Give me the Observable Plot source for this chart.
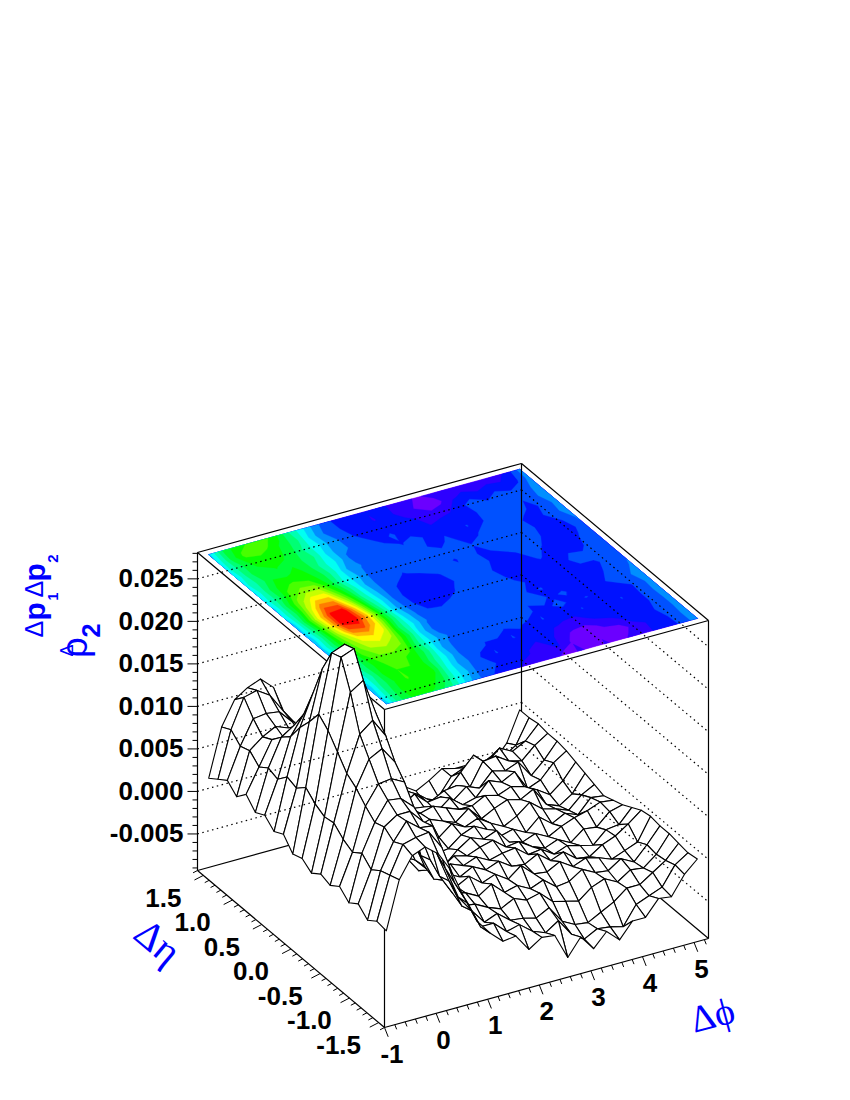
<!DOCTYPE html>
<html><head><meta charset="utf-8">
<script src="https://cdn.jsdelivr.net/npm/d3@7"></script>
<script src="https://cdn.jsdelivr.net/npm/@observablehq/plot@0.6"></script>
<style>html,body{margin:0;padding:0;background:#fff}</style>
</head><body><div id="chart"></div>
<script>
// Δφ bin centres run along columns, Δη along rows (values in units of 0.001)
const phiBins = 25, etaBins = 20;
const phiTicks = [-1,0,1,2,3,4,5];
const etaTicks = [1.5,1.0,0.5,0.0,-0.5,-1.0,-1.5];
const zTicks = [0.025,0.020,0.015,0.010,0.005,0.000,-0.005];
const row00=[1.8,7.4,10.2,11.2,11.8,10.4,6.4,3.4,0.2,-2.2,-3.4,-3.0,-4.2,-3.6,-4.8,-5.4,-6.4,-5.6,-4.6,-5.0,-5.0,-5.4,-5.4,-3.7,-0.2];
const row01=[2.6,8.0,11.4,11.8,10.8,8.6,6.6,2.4,-0.8,-2.0,-3.6,-2.8,-4.6,-3.2,-5.4,-6.0,-7.0,-6.6,-4.6,-4.0,-4.4,-3.6,-4.0,-3.0,-0.2];
const row02=[3.4,7.0,9.8,10.0,9.8,8.2,5.2,2.8,-0.4,-1.4,-3.2,-4.0,-3.4,-3.6,-3.8,-5.0,-5.6,-4.8,-3.2,-1.6,-3.0,-1.6,-2.4,-1.6,0.0];
const row03=[2.4,7.4,8.6,9.4,8.8,7.6,5.8,1.8,-0.6,-1.2,-1.8,-3.4,-2.4,-3.8,-3.2,-4.4,-3.6,-3.4,-4.0,-1.4,-1.2,-2.2,-2.6,-1.2,-0.2];
const row04=[3.6,6.4,9.2,8.8,10.0,7.8,4.6,2.2,-1.2,-1.4,-1.2,-2.0,-2.8,-1.8,-3.2,-3.0,-3.8,-2.6,-3.2,-1.6,-2.0,-1.4,-3.4,-2.0,-0.2];
const row05=[2.4,7.2,10.4,11.4,10.6,8.6,5.0,0.8,-0.8,-1.8,-2.0,-1.2,-2.2,-2.4,-3.4,-2.2,-3.4,-3.0,-1.4,-2.0,-1.2,-3.6,-3.0,-1.4,-0.4];
const row06=[3.0,6.8,11.4,13.6,13.6,9.0,4.2,1.4,-1.4,-1.2,-2.0,-1.6,-1.8,-1.4,-2.0,-2.6,-2.6,-1.8,-2.2,-1.6,-2.0,-2.8,-3.8,-2.6,-0.8];
const row07=[2.0,8.0,13.4,17.0,17.0,10.8,5.4,0.8,-1.6,-1.8,-2.8,-2.2,-1.6,-2.2,-2.8,-1.6,-3.2,-2.4,-1.8,-2.2,-1.4,-3.6,-4.2,-3.2,-1.2];
const row08=[2.6,7.6,15.0,20.8,20.4,13.2,5.8,1.4,-1.8,-3.0,-3.4,-3.6,-2.8,-1.6,-2.4,-1.8,-2.8,-3.6,-2.8,-1.6,-2.8,-3.2,-3.8,-2.4,-1.6];
const row09=[1.2,8.6,16.8,23.6,24.2,16.0,6.8,2.0,-2.2,-3.2,-4.0,-3.4,-3.2,-2.0,-1.4,-2.2,-3.4,-3.0,-3.8,-2.4,-3.6,-2.8,-3.4,-1.8,-2.0];
const row10=[1.6,7.6,15.8,24.0,24.6,18.2,8.4,1.6,-1.6,-3.6,-3.2,-3.8,-2.4,-1.4,-2.0,-1.4,-3.2,-3.6,-3.0,-3.8,-3.0,-2.4,-2.0,-1.4,-1.6];
const row11=[0.8,7.0,14.2,20.8,21.8,17.4,8.8,2.6,-1.0,-2.6,-2.8,-1.8,-2.2,-1.6,-1.2,-2.4,-2.2,-3.2,-3.8,-3.2,-4.0,-2.8,-3.0,-1.6,-1.2];
const row12=[1.6,7.2,12.6,16.8,18.0,15.8,7.6,3.0,-0.8,-1.8,-1.4,-2.0,-1.4,-2.2,-1.8,-1.6,-2.8,-2.6,-3.6,-3.0,-3.4,-3.8,-2.4,-2.2,-0.6];
const row13=[1.2,6.2,11.8,14.8,15.6,13.6,8.2,1.8,-1.4,-1.2,-2.0,-1.2,-2.0,-1.4,-2.4,-2.6,-1.8,-3.0,-2.4,-3.6,-3.8,-2.8,-2.2,-1.2,0.0];
const row14=[2.0,5.6,10.6,12.8,13.0,12.2,6.4,2.2,-0.6,-1.8,-1.0,-2.2,-1.6,-2.6,-1.4,-2.8,-3.0,-2.2,-3.2,-2.6,-3.0,-3.6,-3.0,-2.4,0.2];
const row15=[1.0,6.4,9.6,11.8,11.6,10.2,6.8,1.2,-1.2,-1.6,-2.4,-1.4,-2.8,-2.4,-3.2,-2.6,-3.8,-3.6,-2.6,-3.4,-3.6,-2.6,-3.4,-1.8,0.0];
const row16=[1.8,5.4,10.0,11.0,11.0,9.4,5.4,1.6,-1.8,-2.0,-2.8,-3.4,-2.6,-3.2,-2.8,-4.2,-4.6,-5.0,-3.8,-3.2,-4.0,-3.0,-3.2,-2.0,0.0];
const row17=[0.8,6.2,9.2,11.2,10.0,9.8,4.4,0.6,-1.4,-3.2,-2.6,-3.8,-4.0,-4.4,-3.6,-5.6,-6.4,-6.6,-5.8,-5.0,-3.8,-3.8,-2.8,-1.8,-0.2];
const row18=[1.6,6.6,9.8,10.2,10.4,8.2,3.6,0.8,-2.4,-2.4,-3.8,-3.4,-4.6,-5.2,-4.2,-6.2,-7.2,-6.4,-6.6,-7.0,-4.8,-4.2,-3.6,-1.4,-0.4];
const row19=[1.4,7.0,9.4,10.0,8.8,6.4,2.8,-0.4,-2.2,-3.6,-3.4,-5.4,-4.4,-4.6,-7.6,-5.6,-7.4,-5.8,-7.2,-5.4,-5.4,-3.6,-3.8,-1.6,-0.2];
const rows=[row00,row01,row02,row03,row04,row05,row06,row07,row08,row09,row10,row11,row12,row13,row14,row15,row16,row17,row18,row19];

// Oblique projection of the ROOT lego box onto the page
const phiRange=[-1,5.28], etaRange=[1.6,-1.6], zRange=[-0.0093,0.0281];
const O=[197,870], P=[324,-89], E=[187,157], H=318;
const fa=v=>(v-phiRange[0])/(phiRange[1]-phiRange[0]);
const fb=v=>(v-etaRange[0])/(etaRange[1]-etaRange[0]);
const fz=v=>(v-zRange[0])/(zRange[1]-zRange[0]);
const scr=(a,b,c)=>[O[0]+P[0]*a+E[0]*b, O[1]+P[1]*a+E[1]*b-H*c];
const vtx=(i,j)=>scr((j+.5)/phiBins,(i+.5)/etaBins,fz(rows[i][j]/1000));

// mesh cells, back to front
const cells=[];
for(let i=0;i<etaBins-1;i++) for(let j=phiBins-2;j>=0;j--){
  const r=[vtx(i,j),vtx(i,j+1),vtx(i+1,j+1),vtx(i+1,j),vtx(i,j)];
  cells.push({type:"Feature",geometry:{type:"Polygon",coordinates:[r]}});
}

// contour plane on the top of the box
const nLev=20, zMin=-9.5, zMax=24.7;
const thresholds=d3.range(nLev).map(k=>zMin+(zMax-zMin)*k/nLev);
const levelColor=k=>d3.hsl(280*(1-k/(nLev-1)),1,.5).formatHex();
const clampTo=(v,n)=>Math.max(.5,Math.min(n-.5,v))/n;
const bands=d3.contours().size([phiBins,etaBins]).thresholds(thresholds)(rows.flat()).map((c,k)=>({
  type:"Feature",properties:{color:levelColor(k)},
  geometry:{type:"MultiPolygon",coordinates:c.coordinates.map(poly=>poly.map(ring=>ring.map(([x,y])=>scr(clampTo(x,phiBins),clampTo(y,etaBins),1))))}
}));

const seg=(p,q)=>({x1:p[0],y1:p[1],x2:q[0],y2:q[1]});
const link=(data,o={})=>Plot.link(data,{x1:"x1",y1:"y1",x2:"x2",y2:"y2",stroke:"black",strokeWidth:1.2,...o});
const A=(a,b,c)=>scr(a,b,c);
const floorLines=[seg(A(0,0,0),A(1,0,0)),seg(A(1,0,0),A(1,1,0)),seg(A(0,0,1),A(0,0,0)),seg(A(1,0,1),A(1,0,0)),seg(A(1,1,1),A(1,1,0))];
const topLines=[seg(A(0,0,1),A(1,0,1)),seg(A(1,0,1),A(1,1,1)),seg(A(1,1,1),A(0,1,1)),seg(A(0,1,1),A(0,0,1)),seg(A(0,1,1),A(0,1,0)),seg(A(0,0,0),A(0,1,0)),seg(A(0,1,0),A(1,1,0))];
const grid=zTicks.flatMap(t=>[seg(A(0,0,fz(t)),A(1,0,fz(t))),seg(A(1,0,fz(t)),A(1,1,fz(t)))]);

// ticks
const zAll=d3.range(-9,29).map(v=>v/1000);
const zTickSegs=zAll.map(t=>{const p=A(0,0,fz(t));const major=Math.round(t*1000)%5===0;return seg(p,[p[0]-(major?10:5),p[1]]);});
const etaAll=d3.range(-16,17).map(v=>v/10);
const etaDir=[-.89,.46], phiDir=[.37,.93];
const etaTickSegs=etaAll.map(t=>{const p=A(0,fb(t),0);const major=Math.round(t*10)%5===0;const l=major?10:5;return seg(p,[p[0]+etaDir[0]*l,p[1]+etaDir[1]*l]);});
const phiAll=d3.range(-10,53,2).map(v=>v/10);
const phiTickSegs=phiAll.map(t=>{const p=A(fa(t),1,0);const major=Math.round(t*10)%10===0;const l=major?10:5;return seg(p,[p[0]+phiDir[0]*l,p[1]+phiDir[1]*l]);});

const numFont={fontFamily:"Liberation Sans",fontWeight:"bold",fontSize:26,fill:"black"};
const ink={fill:"#0000ff",stroke:"none"};
const zLabels=zTicks.map(t=>{const p=A(0,0,fz(t));return{x:p[0]-14,y:p[1],t:t.toFixed(3)};});
const etaLabels=etaTicks.map(t=>{const p=A(0,fb(t),0);return{x:p[0]-40,y:p[1]+23,t:t.toFixed(1)};});
const phiLabels=phiTicks.map(t=>{const p=A(fa(t),1,0);return{x:p[0]+7.5,y:p[1]+27,t:String(t)};});

const txt=(s,x,y,o)=>Plot.text([{x,y,t:s}],{x:"x",y:"y",text:"t",lineAnchor:"middle",...o});
const sans="Liberation Sans", bold={fontFamily:sans,fontWeight:"bold",...ink,rotate:-90};

const plot=Plot.plot({
  width:850,height:1100,margin:0,
  style:{background:"white",overflow:"visible"},
  x:{domain:[0,850],range:[0,850],axis:null},
  y:{domain:[0,1100],range:[0,1100],axis:null},
  marks:[
    Plot.geo(bands,{fill:d=>d.properties.color,stroke:d=>d.properties.color,strokeWidth:.3}),
    link(floorLines),
    link(topLines.slice(0,5)),
    Plot.geo(cells,{fill:"white",stroke:"black",strokeWidth:1.1}),
    link(grid,{strokeDasharray:"1.5,3.5",strokeWidth:1.2}),
    link(topLines.slice(5)),
    link(zTickSegs,{strokeWidth:1}),
    link(etaTickSegs,{strokeWidth:1}),
    link(phiTickSegs,{strokeWidth:1}),
    Plot.text(zLabels,{x:"x",y:"y",text:"t",textAnchor:"end",lineAnchor:"middle",...numFont}),
    Plot.text(etaLabels,{x:"x",y:"y",text:"t",textAnchor:"middle",lineAnchor:"middle",...numFont}),
    Plot.text(phiLabels,{x:"x",y:"y",text:"t",textAnchor:"middle",lineAnchor:"middle",...numFont}),
    txt("Δϕ",712,1015,{rotate:-15,fontFamily:"Liberation Serif",fontSize:38,...ink,textAnchor:"middle"}),
    txt("Δη",157,942,{rotate:40,fontFamily:"Liberation Serif",fontSize:40,...ink,textAnchor:"middle"}),
    txt("Δ",34,637,{...bold,fontSize:25,fontWeight:"normal",textAnchor:"start"}),
    txt("p",35,620,{...bold,fontSize:30,textAnchor:"start"}),
    txt("1",53,596,{...bold,fontSize:14,textAnchor:"middle"}),
    txt("Δ",34,597,{...bold,fontSize:25,fontWeight:"normal",textAnchor:"start"}),
    txt("p",35,581,{...bold,fontSize:30,textAnchor:"start"}),
    txt("2",53,558,{...bold,fontSize:15,textAnchor:"middle"}),
    txt("ρ",75,647,{...bold,fontSize:36,fontWeight:"normal",textAnchor:"middle"}),
    txt("Δ",67,650,{...bold,fontSize:18,fontWeight:"normal",textAnchor:"middle"}),
    txt("2",91,630,{...bold,fontSize:25,textAnchor:"middle"})
  ]
});
document.getElementById("chart").append(plot);
</script></body></html>
